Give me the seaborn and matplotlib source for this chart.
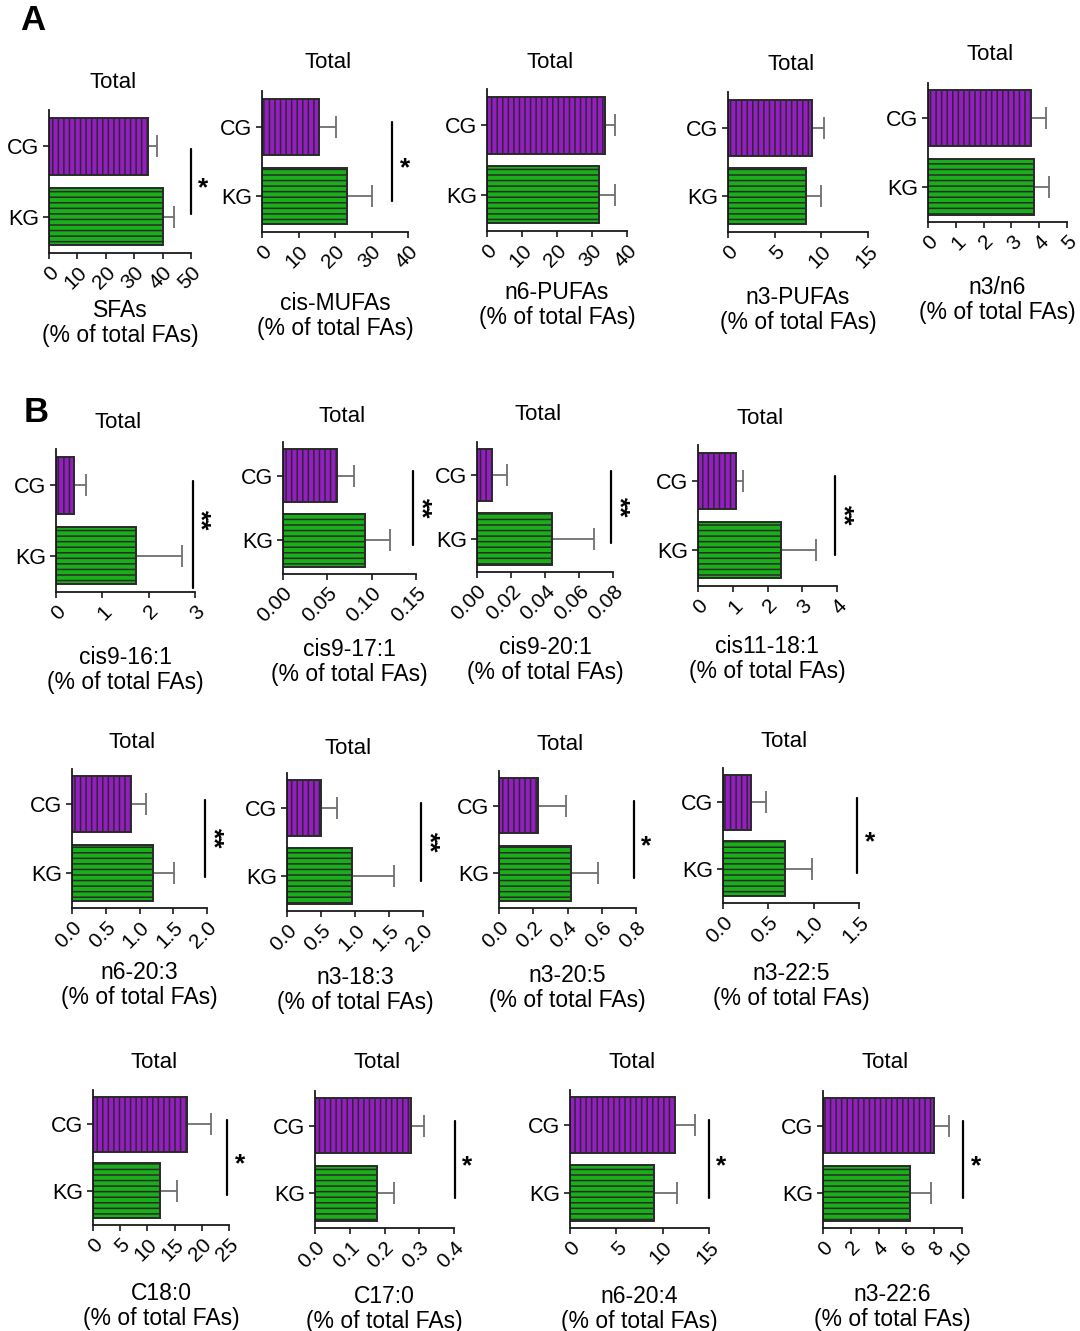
import numpy as np
import pandas as pd
import matplotlib
matplotlib.use('Agg')
import matplotlib.pyplot as plt
import seaborn as sns

# ---------------- data ----------------
groups = ['CG', 'KG']
names = ['SFAs', 'cis-MUFAs', 'n6-PUFAs', 'n3-PUFAs', 'n3/n6',
         'cis9-16:1', 'cis9-17:1', 'cis9-20:1', 'cis11-18:1',
         'n6-20:3', 'n3-18:3', 'n3-20:5', 'n3-22:5',
         'C18:0', 'C17:0', 'n6-20:4', 'n3-22:6']
cg_mean = [35.0, 15.5, 33.6, 9.04, 3.71, 0.38, 0.0605, 0.009, 1.10,
           0.87, 0.505, 0.229, 0.313, 17.3, 0.275, 11.3, 7.95]
cg_sem = [3.0, 4.8, 3.1, 1.2, 0.55, 0.27, 0.020, 0.0088, 0.20,
          0.23, 0.235, 0.162, 0.166, 4.3, 0.039, 2.2, 1.13]
kg_mean = [40.3, 23.2, 31.9, 8.4, 3.81, 1.72, 0.0926, 0.0443, 2.40,
           1.20, 0.956, 0.419, 0.689, 12.4, 0.179, 9.06, 6.27]
kg_sem = [3.7, 6.8, 4.6, 1.6, 0.54, 0.99, 0.028, 0.0243, 1.01,
          0.31, 0.62, 0.158, 0.295, 3.0, 0.048, 2.54, 1.49]
x_max = [50, 40, 40, 15, 5, 3, 0.15, 0.08, 4, 2.0, 2.0, 0.8, 1.5, 25, 0.4, 15, 10]
x_step = [10, 10, 10, 5, 1, 1, 0.05, 0.02, 1, 0.5, 0.5, 0.2, 0.5, 5, 0.1, 5, 2]
x_decimals = [0, 0, 0, 0, 0, 0, 2, 2, 0, 1, 1, 1, 1, 0, 1, 0, 0]
sig_label = ['*', '*', '', '', '', '**', '**', '**', '**', '**', '**',
             '*', '*', '*', '*', '*', '*']
sig_x = [50, 35.7, None, None, None, 2.96, 0.147, 0.079, 3.95, 1.975, 1.975,
         0.787, 1.48, 24.7, 0.403, 15.0, 10.1]
title_text = 'Total'
unit_text = '(% of total FAs)'

# ---------------- layout (pixels) ----------------
W, H = 1080, 1331
# left, right, top, bottom, title_y, xlabel_center_y
layout = [
    (49, 191, 110, 253, 83, 323),
    (262, 408, 91, 232, 63, 316),
    (487, 627, 89, 231, 63, 305),
    (728, 868, 92, 232, 65, 310),
    (928, 1067, 83, 222, 55, 300),
    (56, 195, 449, 592, 423, 670),
    (283, 416, 442, 574, 417, 662),
    (477, 613, 442, 572, 415, 660),
    (698, 837, 445, 586, 418, 659),
    (72, 207, 769, 908, 743, 985),
    (287, 423, 773, 911, 748, 990),
    (499, 636, 771, 908, 745, 988),
    (723, 859, 768, 903, 742, 986),
    (93, 229, 1090, 1225, 1063, 1306),
    (315, 454, 1091, 1228, 1063, 1309),
    (570, 709, 1090, 1228, 1063, 1309),
    (823, 962, 1091, 1228, 1063, 1307),
]
sig_span = [(0.03, 0.97)] + [(-0.07, 1.07)] * 4 + [(-0.07, 1.46)] + [(-0.07, 1.07)] * 11

sns.set_theme(style='ticks')
plt.rcParams['font.family'] = ['Liberation Sans', 'DejaVu Sans']
plt.rcParams['hatch.linewidth'] = 1.1
for key in ['text.color', 'axes.labelcolor', 'xtick.color', 'ytick.color']:
    plt.rcParams[key] = 'black'

colors = {'CG': '#A300E0', 'KG': '#00C800'}
hatches = {'CG': '|||', 'KG': '---'}
edge = '#2a2a2a'

fig = plt.figure(figsize=(W / 100, H / 100), dpi=100)


def px2fig(x, y):
    return x / W, 1 - y / H


for i, name in enumerate(names):
    l, r, t, b, ty, ly = layout[i]
    ax = fig.add_axes([l / W, 1 - b / H, (r - l) / W, (b - t) / H])
    df = pd.DataFrame({'group': groups,
                       'value': [cg_mean[i], kg_mean[i]]})
    sns.barplot(data=df, x='value', y='group', hue='group', palette=colors,
                order=groups, hue_order=groups, width=0.82, errorbar=None,
                edgecolor=edge, linewidth=1.4, legend=False, ax=ax, zorder=1)
    for cont, g in zip(ax.containers, groups):
        for bar in cont:
            bar.set_hatch(hatches[g])
            bar.set_edgecolor(edge)
    ax.errorbar([cg_mean[i], kg_mean[i]], [0, 1],
                xerr=[[0, 0], [cg_sem[i], kg_sem[i]]],
                fmt='none', ecolor='#6e6e6e', elinewidth=1.3,
                capsize=8, capthick=1.3, zorder=0.5)
    ax.set_xlim(0, x_max[i])
    ax.set_ylim(1.52, -0.52)
    ticks = np.arange(0, x_max[i] + x_step[i] / 2, x_step[i])
    ax.set_xticks(ticks)
    ax.set_xticklabels([f'{v:.{x_decimals[i]}f}' for v in ticks],
                       rotation=45, ha='right', va='top',
                       rotation_mode='anchor', fontsize=15)
    ax.set_yticks([0, 1])
    ax.set_yticklabels(groups, fontsize=15.5)
    ax.set_ylabel('')
    ax.set_xlabel('')
    sns.despine(ax=ax)
    for s in ['left', 'bottom']:
        ax.spines[s].set_linewidth(1.3)
        ax.spines[s].set_color('#1a1a1a')
    ax.tick_params(axis='both', width=1.2, length=4, color='#1a1a1a',
                   labelcolor='black', pad=3)
    ax.patch.set_alpha(0)

    cx = (l + r) / 2
    fx, fy = px2fig(cx - 7, ty)
    fig.text(fx, fy, title_text, ha='center', va='center', fontsize=16)
    fx, fy = px2fig(cx, ly)
    fig.text(fx, fy, f'{name}\n{unit_text}', ha='center', va='center',
             fontsize=16.5, linespacing=1.15)

    if sig_label[i]:
        y0, y1 = sig_span[i]
        ax.plot([sig_x[i], sig_x[i]], [y0, y1], color='black', lw=1.6,
                clip_on=False)
        if len(sig_label[i]) == 1:
            ax.annotate(sig_label[i], xy=(sig_x[i], 0.5), xytext=(9, -5),
                        textcoords='offset points', ha='center', va='center',
                        fontsize=19, fontweight='bold', annotation_clip=False)
        else:
            ax.annotate(sig_label[i], xy=(sig_x[i], 0.5), xytext=(5, 0),
                        textcoords='offset points', ha='center', va='center',
                        rotation=270, fontsize=19, fontweight='bold',
                        annotation_clip=False)

fx, fy = px2fig(33, 20)
fig.text(fx, fy, 'A', ha='center', va='center', fontsize=25, fontweight='bold')
fx, fy = px2fig(36, 412)
fig.text(fx, fy, 'B', ha='center', va='center', fontsize=25, fontweight='bold')

fig.savefig('out.png', dpi=100, facecolor='white')
